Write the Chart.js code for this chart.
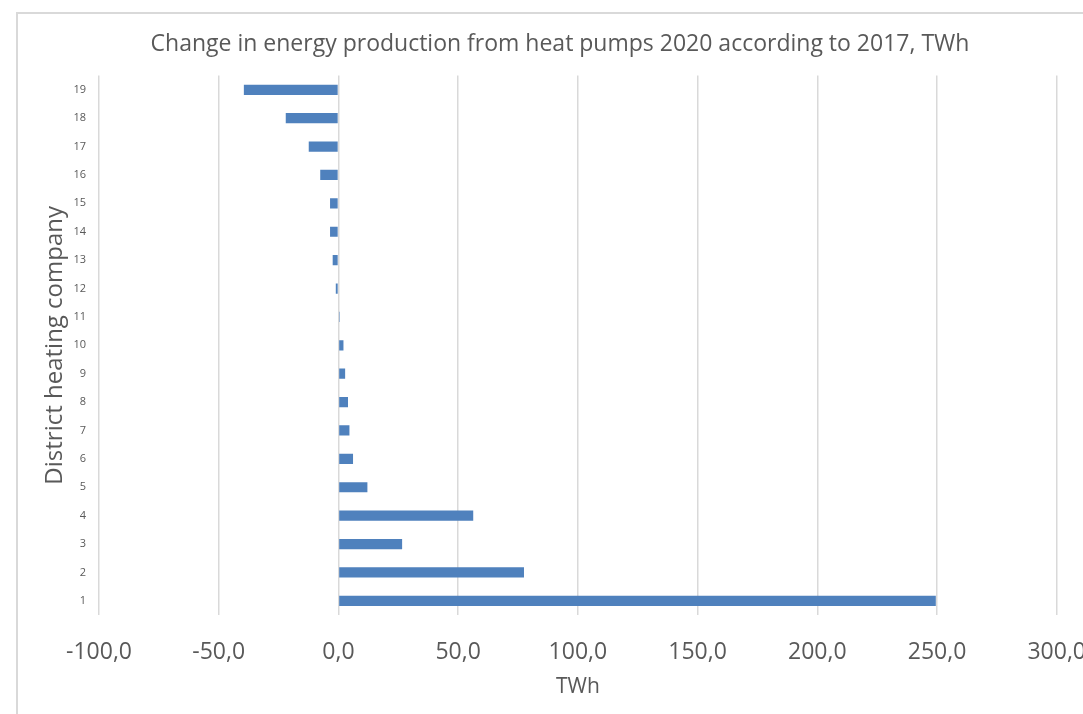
<!DOCTYPE html>
<html>
<head>
<meta charset="utf-8">
<script src="https://cdn.jsdelivr.net/npm/chart.js@4.4.0/dist/chart.umd.min.js"></script>
<style>
  html, body { margin: 0; padding: 0; background: #fff; overflow: hidden; }
  #frame { position: absolute; left: 16px; top: 12px; width: 1200px; height: 800px;
           border-left: 2px solid #d9d9d9; border-top: 2px solid #d9d9d9; }
  #wrap { position: absolute; left: 0; top: 0; width: 1110px; height: 714px; }
</style>
</head>
<body>
<div id="frame"></div>
<div id="wrap"><canvas id="chart"></canvas></div>
<script>
// district heating companies, 1 at the bottom
const companies = ['1','2','3','4','5','6','7','8','9','10','11','12','13','14','15','16','17','18','19'];
// change 2020 vs 2017, TWh
const change = [249.5, 77.5, 26.6, 56.3, 12.1, 6.1, 4.6, 4.0, 2.8, 2.1, 0.5, -1.1, -2.4, -3.5, -3.5, -7.6, -12.4, -22.0, -39.5];

const grey = '#595959';
const font = '"Open Sans", sans-serif';

new Chart(document.getElementById('chart'), {
    type: 'bar',
    data: {
        labels: companies,
        datasets: [{
            label: 'Change',
            data: change,
            backgroundColor: '#4f81bd',
            categoryPercentage: 1,
            barPercentage: 0.36
        }]
    },
    options: {
        indexAxis: 'y',
        responsive: true,
        maintainAspectRatio: false,
        animation: false,
        // left padding keeps the title centred like the original
        layout: { padding: { left: 61, right: 51, top: 0, bottom: 14 } },
        plugins: {
            legend: { display: false },
            tooltip: { enabled: false },
            title: {
                display: true,
                text: 'Change in energy production from heat pumps 2020 according to 2017, TWh',
                color: grey,
                font: { family: font, size: 23, weight: 'normal' },
                padding: { top: 31, bottom: 17 }
            }
        },
        scales: {
            x: {
                min: -100,
                max: 300,
                afterFit: s => { s.height = 85; },
                ticks: {
                    stepSize: 50,
                    color: grey,
                    padding: 24,
                    font: { family: font, size: 23 },
                    callback: v => v.toFixed(1).replace('.', ',')
                },
                grid: { color: '#d9d9d9', lineWidth: 1.5, drawTicks: false },
                border: { display: false },
                title: {
                    display: true,
                    text: 'TWh',
                    color: grey,
                    font: { family: font, size: 21 },
                    padding: { top: 0, bottom: 0 }
                }
            },
            y: {
                reverse: true,
                afterFit: s => { s.width = 38; },
                ticks: {
                    color: grey,
                    padding: 5,
                    font: { family: font, size: 11 }
                },
                grid: { display: false },
                border: { display: false },
                title: {
                    display: true,
                    text: 'District heating company',
                    color: grey,
                    font: { family: font, size: 24 },
                    padding: { top: -20, bottom: -20 }
                }
            }
        }
    }
});
</script>
</body>
</html>
